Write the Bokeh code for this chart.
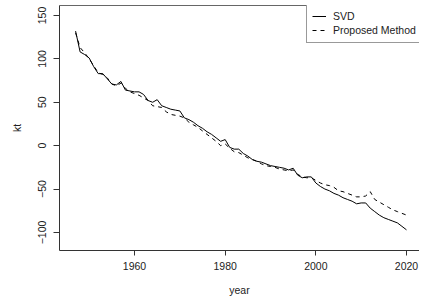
from bokeh.plotting import figure
from bokeh.models import (Range1d, FixedTicker, LinearAxis, Legend, LegendItem,
                          ColumnDataSource)
from bokeh.embed import file_html
from bokeh.resources import INLINE

years = list(range(1947, 2021))
svd = [132, 108, 105, 101, 91, 83, 83, 77, 71, 70,
       74, 64, 63, 62, 62, 59, 52, 50, 53, 46,
       44, 42, 41, 40, 32, 30, 27, 23, 20, 16,
       13, 9, 5, 7, -2, -4, -4, -9, -12, -16,
       -18, -19, -21, -23, -24, -25, -26, -28, -26, -34,
       -37, -36, -36, -43, -47, -50, -52, -55, -57, -60,
       -62, -64, -67, -66, -66, -72, -76, -80, -83, -85,
       -87, -89, -93, -97]
proposed = [130, 113, 107, 100, 92, 84, 82, 78, 71, 69,
            72, 66, 62, 60, 58, 55, 52, 46, 45, 44,
            39, 36, 35, 34, 32, 27, 24, 21, 17, 13,
            9, 5, 0, 2, -3, -7, -8, -11, -14, -16,
            -18, -21, -23, -24, -25, -27, -28, -29, -28, -33,
            -36, -37, -37, -40, -43, -45, -46, -48, -52, -53,
            -55, -57, -59, -59, -58, -53, -62, -65, -68, -71,
            -74, -76, -78, -80]
x_ticks = [1960, 1980, 2000, 2020]
y_ticks = [-100, -50, 0, 50, 100, 150]
series_names = ["SVD", "Proposed Method"]

FONT = "Liberation Sans"
FS = "10.5px"
TXT = "#222222"

p = figure(width=419, height=300, output_backend="svg", toolbar_location=None,
           x_range=Range1d(1943.45, 2022.87), y_range=Range1d(-120.8, 161.5),
           x_axis_location=None, y_axis_location=None,
           min_border_left=59, min_border_right=0, min_border_top=5,
           min_border_bottom=50)
p.outline_line_color = None
p.xgrid.visible = False
p.ygrid.visible = False
p.background_fill_color = "white"
p.border_fill_color = "white"

src = ColumnDataSource(dict(year=years, svd=svd, proposed=proposed))
r1 = p.line("year", "svd", source=src, line_color="black", line_width=1)
r2 = p.line("year", "proposed", source=src, line_color="black", line_width=1,
            line_dash="4 4")

def style_axis(ax):
    ax.axis_line_color = "#333333"
    ax.axis_line_width = 1
    ax.major_tick_line_color = "#333333"
    ax.minor_tick_line_color = None
    ax.major_tick_in = 0
    ax.major_label_text_font = FONT
    ax.major_label_text_font_size = FS
    ax.major_label_text_color = TXT
    ax.axis_label_text_font = FONT
    ax.axis_label_text_font_size = FS
    ax.axis_label_text_font_style = "normal"
    ax.axis_label_text_color = TXT

xa = LinearAxis(axis_label="year", ticker=FixedTicker(ticks=x_ticks))
style_axis(xa)
xa.major_tick_out = 5
xa.major_label_standoff = 6
xa.axis_label_standoff = 11
p.add_layout(xa, "below")

ya = LinearAxis(axis_label="kt", ticker=FixedTicker(ticks=y_ticks))
style_axis(ya)
ya.major_tick_out = 6
ya.major_label_standoff = 7
ya.axis_label_standoff = 13
ya.major_label_orientation = "vertical"
p.add_layout(ya, "left")

top = LinearAxis(ticker=FixedTicker(ticks=[]))
top.axis_line_color = "#666666"
top.major_tick_line_color = None
top.minor_tick_line_color = None
top.major_tick_out = 0
top.major_tick_in = 0
top.major_label_standoff = 0
top.major_label_text_font_size = "0px"
p.add_layout(top, "above")

legend = Legend(items=[LegendItem(label=series_names[0], renderers=[r1]),
                       LegendItem(label=series_names[1], renderers=[r2])],
                location=(247, 207), padding=5, spacing=0, margin=0,
                label_height=14, glyph_height=14, glyph_width=14,
                label_standoff=7, label_width=100, label_text_font=FONT,
                label_text_font_size=FS, label_text_color=TXT,
                border_line_color="#333333", border_line_width=1,
                background_fill_color="white", background_fill_alpha=1)
p.add_layout(legend, "center")

open("out.html", "w").write(file_html(p, INLINE))
